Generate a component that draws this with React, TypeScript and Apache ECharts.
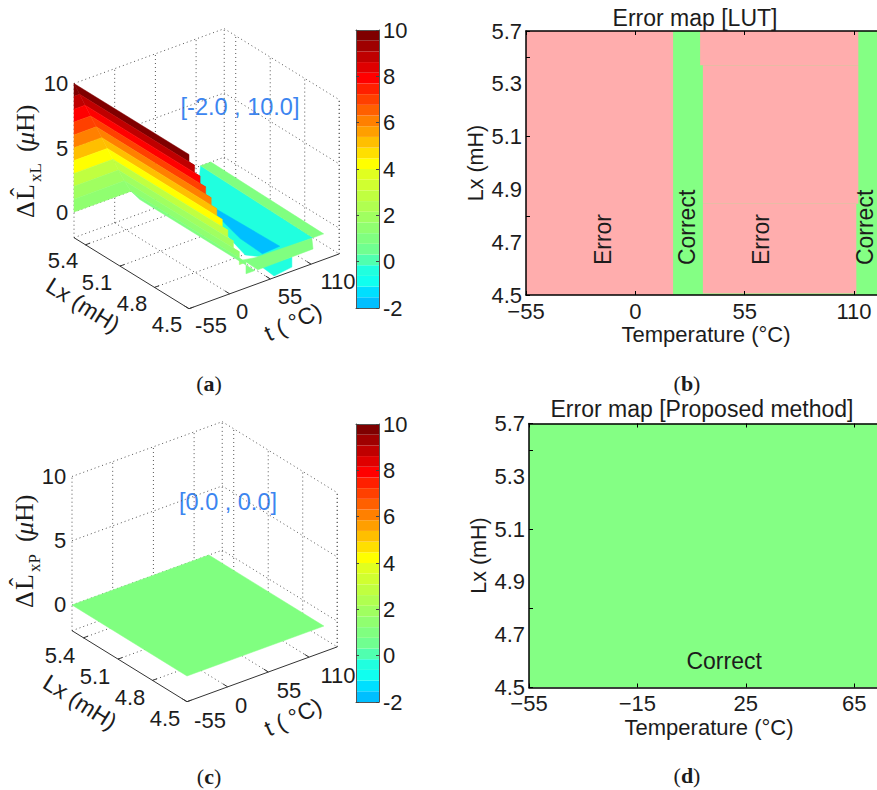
import React, { useEffect, useRef } from "react";
import * as echarts from "echarts";

// ---------- data ----------
const colorBarColors = [
  "#00BFFF", "#00DFFF", "#10FFEF", "#20FFDF", "#50FFAF", "#70FF90", "#80FF80", "#90FF70", "#A0FF60",
  "#B0FF50", "#C0FF40", "#D0FF30", "#E0FF20", "#FFFF00", "#FFDF00", "#FFBF00", "#FF9F00", "#FF8000",
  "#FF6000", "#FF4000", "#FF2000", "#FF0000", "#DF0000", "#BF0000", "#9F0000", "#7F0000",
];
const colorMin = -2;
const colorMax = 10;

const tTicks3d = [-55, 0, 55, 110];
const lxTicks3d = [5.4, 5.1, 4.8, 4.5];
const zTicks3d = [10, 5, 0];

// Surface of panel (a): the LUT error falls in steps with temperature
const surfaceT = [-55, -47.5, -40, -32.5, -25, -17.5, -10, -2.5, 5, 13, 22, 34];
const surfaceZ = [10, 9, 8, 7, 6, 5, 4, 3, 2, 1, 0, -0.9];
const surfaceColorValue = [10, 9, 8, 7, 6, 5, 4, 3, 2, 1.3, 1];

// Patches of the trough in panel (a): [t, Lx, z] and the value that picks their colour
const troughRim = [[116, 5.5, 0], [130, 5.5, 0], [127, 4.5, 0], [112.5, 4.5, 0]];
const troughRimValue = 1;
const troughMid = [[116, 5.5, 0], [112.5, 4.5, 0], [60.7, 4.61, -1], [49, 4.68, -1], [61, 4.93, -1], [100.5, 5.42, -1]];
const troughMidValue = -0.6;
const troughDeep = [[105, 5.35, -2], [108, 4.76, -2], [83, 4.75, -2], [85, 4.955, -2], [98, 5.26, -2]];
const troughDeepValue = -2;
const frontStrip = [[34, 4.5, 0.1], [111, 4.5, 0], [112.6, 4.5, -0.87], [38, 4.5, -0.93], [18, 4.5, 0.26]];
const frontStripValue = 1;
const frontLower = [[84, 4.5, -0.9], [84, 4.5, -1.68], [60, 4.5, -1.87], [43.6, 4.5, -0.82]];
const frontLowerValue = -0.6;

// Flat zero-error surface of panel (c)
const proposedPlane = [[-55, 5.5, 0], [130, 5.5, 0], [130, 4.5, 0], [-55, 4.5, 0]];
const proposedPlaneValue = 1;

// Error maps: y position counts the evenly spaced tick labels, from the bottom
const mapYLabels = ["4.5", "4.7", "4.9", "5.1", "5.3", "5.7"];
const mapBGreen = [[-55, 121.6, 0, 5]];
const mapBPink = [
  [-55, 19, 0, 5],
  [34, 111.2, 0.03, 1.73],
  [34, 112.2, 1.73, 4.35],
  [32.6, 112.2, 4.35, 5],
];
const mapBNotes = [
  { text: "Error", t: -16.3, y: 1.05 },
  { text: "Correct", t: 26, y: 1.28 },
  { text: "Error", t: 63, y: 1.05 },
  { text: "Correct", t: 115.5, y: 1.28 },
];
const mapDGreen = [[-55, 73.4, 0, 5]];
const mapDNotes = [{ text: "Correct", t: 17, y: 0.5 }];

const SANS = "'Liberation Sans', Arial, sans-serif";
const SERIF = "'Liberation Serif', serif";
const INK = "#1c1c1c";
const PINK = "#FFADAD";
const GREEN = "#84FF84";
const BLUE = "#3C85F0";

const colorOf = (v: number) => {
  const i = Math.floor(((v - colorMin) / (colorMax - colorMin)) * colorBarColors.length);
  return colorBarColors[Math.max(0, Math.min(colorBarColors.length - 1, i))];
};

type P3 = number[];
type Prim =
  | { kind: "poly"; pts: P3[]; color: string }
  | { kind: "line"; a: P3; b: P3; solid: boolean };

const T0 = -55;
const T1 = 148;
const L0 = 5.5;
const L1 = 4.5;
const Z0 = -2;
const Z1 = 10;

const box = (): Prim[] => {
  const out: Prim[] = [];
  const dot = (a: P3, b: P3) => out.push({ kind: "line", a, b, solid: false });
  const sol = (a: P3, b: P3) => out.push({ kind: "line", a, b, solid: true });
  [Z0, ...zTicks3d].forEach((z) => {
    dot([T0, L0, z], [T1, L0, z]);
    dot([T1, L0, z], [T1, L1, z]);
  });
  [T0, ...tTicks3d.slice(1), T1].forEach((t) => dot([t, L0, Z0], [t, L0, Z1]));
  [...lxTicks3d, L1].forEach((l) => dot([T1, l, Z0], [T1, l, Z1]));
  tTicks3d.slice(1).forEach((t) => dot([t, L0, Z0], [t, L1, Z0]));
  lxTicks3d.slice(0, 3).forEach((l) => dot([T0, l, Z0], [T1, l, Z0]));
  sol([T0, L0, Z0], [T0, L1, Z0]);
  sol([T0, L1, Z0], [T1, L1, Z0]);
  lxTicks3d.forEach((l) => sol([T0, l, Z0], [T0 + 6, l, Z0]));
  tTicks3d.forEach((t) => sol([t, L1, Z0], [t, L1 + 0.04, Z0]));
  return out;
};

const panelA = (): Prim[] => {
  const prims = box();
  const patch = (pts: P3[], v: number) => prims.push({ kind: "poly", pts, color: colorOf(v) });
  patch(troughMid, troughMidValue);
  patch(troughDeep, troughDeepValue);
  patch(troughRim, troughRimValue);
  patch(frontLower, frontLowerValue);
  patch(frontStrip, frontStripValue);
  for (let i = 0; i < surfaceT.length - 1; i++) {
    const c = colorOf(surfaceColorValue[i]);
    prims.push({
      kind: "poly",
      color: c,
      pts: [
        [surfaceT[i], L0, surfaceZ[i]],
        [surfaceT[i], L1, surfaceZ[i]],
        [surfaceT[i], L1, surfaceZ[i + 1]],
        [surfaceT[i + 1], L1, surfaceZ[i + 1]],
        [surfaceT[i + 1], L0, surfaceZ[i + 1]],
      ],
    });
    if (surfaceZ[i + 1] >= 0) {
      prims.push({
        kind: "poly",
        color: c,
        pts: [
          [T0, L0, surfaceZ[i]],
          [surfaceT[i], L0, surfaceZ[i]],
          [surfaceT[i + 1], L0, surfaceZ[i + 1]],
          [T0, L0, surfaceZ[i + 1]],
        ],
      });
    }
  }
  return prims;
};

const panelC = (): Prim[] => [
  ...box(),
  { kind: "poly", pts: proposedPlane, color: colorOf(proposedPlaneValue) },
];

const projector = (ox: number, oy: number) => (p: P3) => [
  ox + 0.74 * (p[0] - T0) + 115 * (L0 - p[1]),
  oy - 0.27 * (p[0] - T0) + 71 * (L0 - p[1]) - 12.85 * p[2],
];

const series3d = (prims: Prim[], ox: number, oy: number) => {
  const project = projector(ox, oy);
  return {
    type: "custom",
    coordinateSystem: "cartesian2d",
    xAxisIndex: 0,
    yAxisIndex: 0,
    silent: true,
    clip: false,
    z: 2,
    data: prims.map((_, i) => [i, 0]),
    renderItem: (params: any, api: any) => {
      const s = prims[params.dataIndex];
      if (s.kind === "poly") {
        return {
          type: "polygon",
          shape: { points: s.pts.map((p) => api.coord(project(p))) },
          style: { fill: s.color, stroke: s.color, lineWidth: 0.5 },
        };
      }
      const a = api.coord(project(s.a));
      const b = api.coord(project(s.b));
      return {
        type: "line",
        shape: { x1: a[0], y1: a[1], x2: b[0], y2: b[1] },
        style: s.solid
          ? { stroke: "#333", lineWidth: 1 }
          : { stroke: "#555", lineWidth: 1, lineDash: [1, 3] },
      };
    },
  };
};

const colorBarSeries = (axis: number) => ({
  type: "custom",
  coordinateSystem: "cartesian2d",
  xAxisIndex: axis,
  yAxisIndex: axis,
  silent: true,
  clip: true,
  z: 2,
  data: colorBarColors.map((_, i) => [i, 0]),
  renderItem: (params: any, api: any) => {
    const n = colorBarColors.length;
    const i = params.dataIndex;
    const lo = colorMin + ((colorMax - colorMin) * i) / n;
    const hi = colorMin + ((colorMax - colorMin) * (i + 1)) / n;
    const a = api.coord([0, lo]);
    const b = api.coord([1, hi]);
    return {
      type: "rect",
      shape: { x: a[0], y: b[1], width: b[0] - a[0], height: a[1] - b[1] },
      style: { fill: colorBarColors[i] },
    };
  },
});

const rectSeries = (rows: number[][], color: string, xi: number, yi: number) => ({
  type: "custom",
  coordinateSystem: "cartesian2d",
  xAxisIndex: xi,
  yAxisIndex: yi,
  silent: true,
  clip: true,
  z: 2,
  data: rows.map((_, i) => [i, 0]),
  renderItem: (params: any, api: any) => {
    const r = rows[params.dataIndex];
    const a = api.coord([r[0], r[2]]);
    const b = api.coord([r[1], r[3]]);
    return {
      type: "rect",
      shape: { x: a[0], y: b[1], width: b[0] - a[0], height: a[1] - b[1] },
      style: { fill: color },
    };
  },
});

const noteSeries = (
  notes: { text: string; t: number; y: number }[],
  rotation: number,
  xi: number,
  yi: number
) => ({
  type: "custom",
  coordinateSystem: "cartesian2d",
  xAxisIndex: xi,
  yAxisIndex: yi,
  silent: true,
  clip: false,
  z: 3,
  data: notes.map((_, i) => [i, 0]),
  renderItem: (params: any, api: any) => {
    const n = notes[params.dataIndex];
    const p = api.coord([n.t, n.y]);
    return {
      type: "text",
      x: p[0],
      y: p[1],
      rotation,
      style: {
        text: n.text,
        fill: INK,
        font: `23px ${SANS}`,
        align: "center",
        verticalAlign: "middle",
      },
    };
  },
});

const label = (text: string, x: number, y: number, size = 22, extra: any = {}, rotation = 0, fill = INK) => ({
  type: "text",
  x,
  y,
  rotation,
  style: {
    text,
    fill,
    font: `${size}px ${SANS}`,
    align: "center",
    verticalAlign: "middle",
    ...extra,
  },
});

const caption = (letter: string, x: number, y: number) => ({
  type: "text",
  x,
  y,
  style: {
    text: `({b|${letter}})`,
    fill: INK,
    font: `22px ${SERIF}`,
    align: "center",
    verticalAlign: "middle",
    rich: { b: { font: `bold 22px ${SERIF}`, fill: INK } },
  },
});

const zLabel = (x: number, y: number, sub: string) => {
  const piece = (text: string, lx: number, ly: number, font: string) => ({
    type: "text",
    x: lx,
    y: ly,
    style: { text, fill: INK, font, align: "left", verticalAlign: "middle" },
  });
  const main = `26px ${SERIF}`;
  return {
    type: "group",
    x,
    y,
    rotation: Math.PI / 2,
    children: [
      piece("Δ", 0, -8, main),
      piece("L\u0302", 18, -8, main),
      piece(sub, 36, 2, `17px ${SERIF}`),
      piece("(", 66, -8, main),
      piece("μ", 73, -8, `italic ${main}`),
      piece("H)", 86, -8, main),
    ],
  };
};

const mapAxes = (
  top: number,
  height: number,
  left: number,
  width: number,
  tMax: number,
  interval: number
) => {
  const line = { show: true, onZero: false, lineStyle: { color: "#000", width: 1.5 } };
  const tick = { show: true, inside: true, length: 4, lineStyle: { color: "#000", width: 1 } };
  const xBase = { type: "value", min: -55, max: tMax, interval, splitLine: { show: false }, z: 5 };
  const yBase = { type: "value", min: 0, max: 5, splitLine: { show: false }, z: 5 };
  return {
    grid: { left, top, width, height, containLabel: false },
    x: [
      {
        ...xBase,
        position: "bottom",
        axisLine: line,
        axisTick: tick,
        axisLabel: {
          show: true,
          margin: 5,
          color: INK,
          fontFamily: SANS,
          fontSize: 22,
          showMaxLabel: false,
          formatter: (v: number) => String(v).replace("-", "\u2212"),
        },
      },
      { ...xBase, position: "top", axisLine: line, axisTick: tick, axisLabel: { show: false } },
    ],
    y: [
      {
        ...yBase,
        interval: 1,
        position: "left",
        axisLine: line,
        axisTick: { show: false },
        axisLabel: {
          show: true,
          margin: 4,
          color: INK,
          fontFamily: SANS,
          fontSize: 22,
          formatter: (v: number) => mapYLabels[v],
        },
        name: "Lx (mH)",
        nameLocation: "middle",
        nameGap: 39,
        nameTextStyle: { color: INK, fontFamily: SANS, fontSize: 21.5 },
      },
      {
        ...yBase,
        interval: 1.5,
        position: "left",
        axisLine: { show: false, onZero: false },
        axisTick: tick,
        axisLabel: { show: false },
      },
    ],
  };
};

const colorBarAxes = (top: number, height: number) => {
  const tick = { show: true, inside: true, length: 3, lineStyle: { color: "#444", width: 1 } };
  const line = { show: true, onZero: false, lineStyle: { color: "#555", width: 1 } };
  const yBase = { type: "value", min: colorMin, max: colorMax, interval: 2, splitLine: { show: false }, z: 5 };
  const xBase = { type: "value", min: 0, max: 1, splitLine: { show: false }, axisTick: { show: false }, axisLabel: { show: false }, axisLine: line, z: 5 };
  return {
    grid: { left: 356, top, width: 23, height },
    x: [{ ...xBase, position: "bottom" }],
    y: [
      {
        ...yBase,
        position: "right",
        axisLine: line,
        axisTick: tick,
        axisLabel: { show: true, margin: 4, color: INK, fontFamily: SANS, fontSize: 22 },
      },
      { ...yBase, position: "left", axisLine: line, axisTick: tick, axisLabel: { show: false } },
    ],
  };
};

export default function App() {
  const ref = useRef<HTMLDivElement>(null);
  useEffect(() => {
    if (!ref.current) return;
    const chart = echarts.init(ref.current, null, { renderer: "svg", width: 877, height: 790 });

    const barA = colorBarAxes(30, 278);
    const barC = colorBarAxes(424, 278);
    const mapB = mapAxes(31, 264, 526, 351, 121.6, 55);
    const mapD = mapAxes(423.5, 264, 529, 348, 73.4, 40);

    // grid 0 is the page itself in pixels and carries the projected 3-D panels
    const grids = [
      { left: 0, top: 0, width: 877, height: 790 },
      barA.grid,
      barC.grid,
      mapB.grid,
      mapD.grid,
    ];
    const xAxes: any[] = [
      { type: "value", show: false, gridIndex: 0, min: 0, max: 877 },
      { ...barA.x[0], gridIndex: 1 },
      { ...barC.x[0], gridIndex: 2 },
      { ...mapB.x[0], gridIndex: 3 },
      { ...mapB.x[1], gridIndex: 3 },
      { ...mapD.x[0], gridIndex: 4 },
      { ...mapD.x[1], gridIndex: 4 },
      { ...barA.x[0], gridIndex: 1, position: "top" },
      { ...barC.x[0], gridIndex: 2, position: "top" },
    ];
    const yAxes: any[] = [
      { type: "value", show: false, gridIndex: 0, min: 0, max: 790, inverse: true },
      { ...barA.y[0], gridIndex: 1 },
      { ...barC.y[0], gridIndex: 2 },
      { ...mapB.y[0], gridIndex: 3 },
      { ...mapB.y[1], gridIndex: 3 },
      { ...mapD.y[0], gridIndex: 4 },
      { ...mapD.y[1], gridIndex: 4 },
      { ...barA.y[1], gridIndex: 1 },
      { ...barC.y[1], gridIndex: 2 },
    ];

    const graphicElements: any[] = [
      zLabel(33, 218, "xL"),
      zLabel(32, 608, "xP"),
      label("10", 56, 83),
      label("5", 62, 148),
      label("0", 62, 212),
      label("5.4", 63, 260),
      label("5.1", 97, 282),
      label("4.8", 132, 303),
      label("4.5", 167, 324),
      label("-55", 211, 325),
      label("0", 242, 311),
      label("55", 290, 296),
      label("110", 338, 281),
      label("Lx (mH)", 83, 305, 23, {}, -0.56),
      label("t ( \u00B0C)", 293, 322, 23, {}, 0.43),
      label("[-2.0 , 10.0]", 240, 107, 23.5, {}, 0, BLUE),
      label("10", 54, 476),
      label("5", 60, 540),
      label("0", 60, 604),
      label("5.4", 60, 655),
      label("5.1", 95, 676),
      label("4.8", 130, 697),
      label("4.5", 165, 718),
      label("-55", 210, 720),
      label("0", 241, 705),
      label("55", 289, 690),
      label("110", 338, 675),
      label("Lx (mH)", 80, 702, 23, {}, -0.56),
      label("t ( \u00B0C)", 293, 717, 23, {}, 0.43),
      label("[0.0 , 0.0]", 228, 502, 23.5, {}, 0, BLUE),
      label("Temperature (\u00B0C)", 706, 334, 22),
      label("Temperature (\u00B0C)", 709, 727, 22),
      caption("a", 209, 383),
      caption("b", 687, 383),
      caption("c", 209, 776),
      caption("d", 687, 775),
    ];

    chart.setOption({
      animation: false,
      backgroundColor: "#fff",
      title: [
        {
          text: "Error map [LUT]",
          left: 690,
          top: 1,
          textAlign: "center",
          textStyle: { color: INK, fontFamily: SANS, fontSize: 23, fontWeight: "normal" },
        },
        {
          text: "Error map [Proposed method]",
          left: 697,
          top: 392,
          textAlign: "center",
          textStyle: { color: INK, fontFamily: SANS, fontSize: 23, fontWeight: "normal" },
        },
      ],
      grid: grids,
      xAxis: xAxes,
      yAxis: yAxes,
      series: [
        series3d(panelA(), 74, 212),
        series3d(panelC(), 72, 605),
        colorBarSeries(1),
        colorBarSeries(2),
        rectSeries(mapBGreen, GREEN, 3, 3),
        rectSeries(mapBPink, PINK, 3, 3),
        noteSeries(mapBNotes, Math.PI / 2, 3, 3),
        rectSeries(mapDGreen, GREEN, 5, 5),
        noteSeries(mapDNotes, 0, 5, 5),
      ],
      graphic: { elements: graphicElements },
    });
    return () => chart.dispose();
  }, []);
  return (
    <div
      ref={ref}
      style={{ position: "fixed", left: 0, top: 0, width: 877, height: 790, overflow: "hidden", background: "#fff" }}
    />
  );
}
